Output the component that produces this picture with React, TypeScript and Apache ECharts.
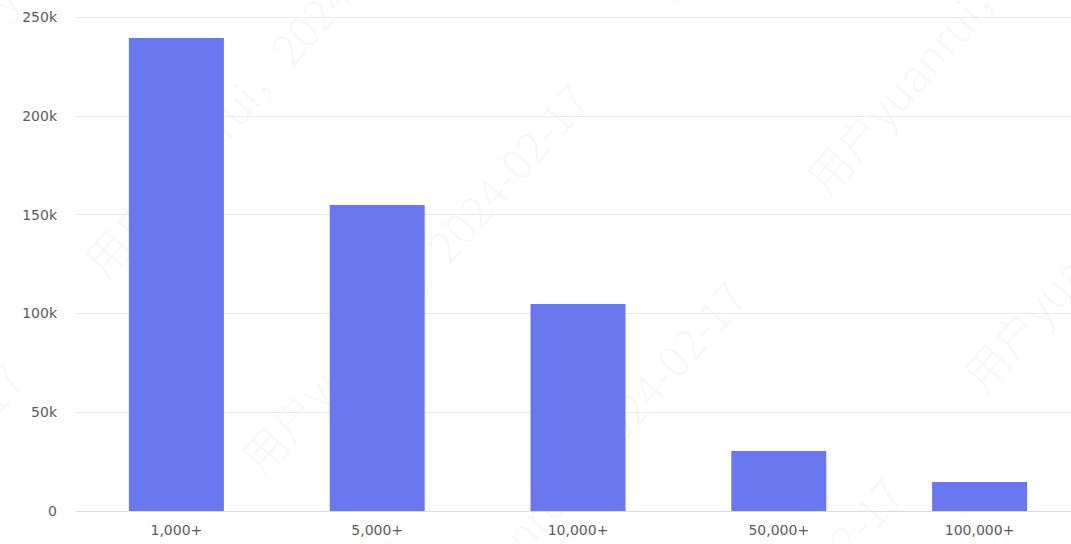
import React, { useEffect, useRef } from "react";
import * as echarts from "echarts";

const categories = ["1,000+", "5,000+", "10,000+", "50,000+", "100,000+"];
const values = [239400, 154900, 104800, 30400, 14700];
const yTicks = { min: 0, max: 250000, interval: 50000 };
const watermarkText = "用户yuanrui，2024-02-17";

function buildWatermarks() {
  const items: any[] = [];
  const origin = [265, 480];
  const v1 = [157, 197];
  const v2 = [565, -280];
  for (let i = -4; i <= 4; i++) {
    for (let j = -3; j <= 3; j++) {
      const x = origin[0] + i * v1[0] + j * v2[0];
      const y = origin[1] + i * v1[1] + j * v2[1];
      if (x < -600 || x > 1100 || y < -50 || y > 1000) continue;
      items.push({
        type: "text",
        x,
        y,
        rotation: 0.85,
        silent: true,
        z: -10,
        style: {
          text: watermarkText,
          fontSize: 44,
          fontWeight: 300,
          fontFamily: "Noto Sans CJK SC, Noto Sans, sans-serif",
          fill: "rgba(0,0,0,0.045)",
          verticalAlign: "bottom",
          align: "left",
        },
      });
    }
  }
  return items;
}

export default function App() {
  const ref = useRef<HTMLDivElement>(null);
  useEffect(() => {
    document.body.style.margin = "0";
    document.body.style.overflow = "hidden";
    const chart = echarts.init(ref.current!, null, { renderer: "svg" });
    chart.setOption({
      animation: false,
      backgroundColor: "#ffffff",
      grid: { left: 76, right: 0, top: 17, bottom: 33, containLabel: false },
      graphic: { elements: buildWatermarks() },
      xAxis: {
        type: "category",
        data: categories,
        axisLine: { show: true, lineStyle: { color: "#d5dcef", width: 1 } },
        axisTick: { show: false },
        axisLabel: {
          color: "#5c5c5c",
          fontSize: 14,
          margin: 12,
          fontFamily: "DejaVu Sans, sans-serif",
        },
      },
      yAxis: {
        type: "value",
        min: yTicks.min,
        max: yTicks.max,
        interval: yTicks.interval,
        axisLine: { show: false },
        axisTick: { show: false },
        splitLine: { lineStyle: { color: "#e9e9ec", width: 1 } },
        axisLabel: {
          color: "#5c5c5c",
          fontSize: 14,
          margin: 19,
          fontFamily: "DejaVu Sans, sans-serif",
          formatter: (v: number) => (v === 0 ? "0" : v / 1000 + "k"),
        },
      },
      series: [
        {
          type: "bar",
          data: values,
          barWidth: 95,
          z: 5,
          itemStyle: { color: "#6a78f0" },
        },
      ],
    });
    return () => chart.dispose();
  }, []);
  return (
    <div
      ref={ref}
      style={{ position: "fixed", left: 0, top: 0, width: 1080, height: 544 }}
    />
  );
}
